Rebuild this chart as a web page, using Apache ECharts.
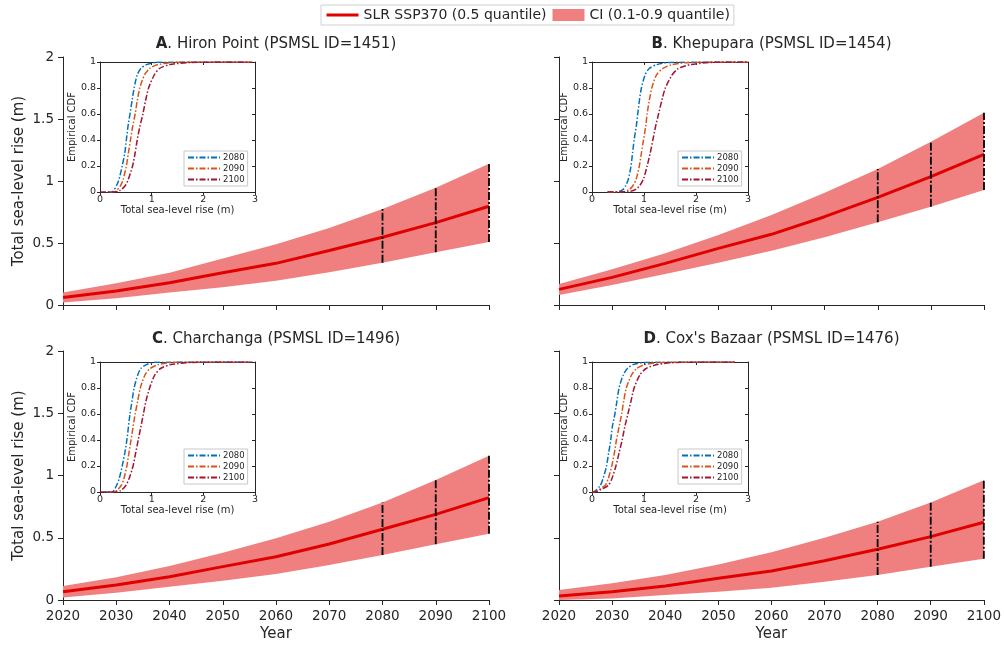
<!DOCTYPE html>
<html><head><meta charset="utf-8">
<script src="https://cdn.jsdelivr.net/npm/echarts@6/dist/echarts.min.js"></script>
<style>html,body{margin:0;padding:0;background:#fff}#c{width:1004px;height:648px}</style>
</head><body><div id="c"></div>
<script>
// ---------- data ----------
const years = [2020, 2030, 2040, 2050, 2060, 2070, 2080, 2090, 2100];
const markYears = [2080, 2090, 2100];

const medianA = [0.06, 0.113, 0.18, 0.26, 0.336, 0.44, 0.546, 0.664, 0.796];
const upperA  = [0.10, 0.175, 0.26, 0.376, 0.49, 0.62, 0.774, 0.946, 1.14];
const lowerA  = [0.02, 0.054, 0.10, 0.143, 0.196, 0.264, 0.341, 0.425, 0.508];

const medianB = [0.126, 0.223, 0.336, 0.457, 0.57, 0.712, 0.868, 1.035, 1.215];
const upperB  = [0.169, 0.288, 0.417, 0.565, 0.726, 0.906, 1.097, 1.317, 1.551];
const lowerB  = [0.081, 0.161, 0.25, 0.341, 0.438, 0.546, 0.667, 0.793, 0.927];

const medianC = [0.067, 0.12, 0.187, 0.268, 0.348, 0.45, 0.568, 0.688, 0.822];
const upperC  = [0.112, 0.182, 0.273, 0.38, 0.495, 0.629, 0.784, 0.964, 1.159];
const lowerC  = [0.021, 0.059, 0.107, 0.155, 0.209, 0.281, 0.361, 0.447, 0.533];

const medianD = [0.032, 0.067, 0.112, 0.174, 0.233, 0.316, 0.407, 0.509, 0.624];
const upperD  = [0.08, 0.134, 0.2, 0.286, 0.383, 0.5, 0.629, 0.784, 0.961];
const lowerD  = [0.0, 0.013, 0.04, 0.067, 0.099, 0.147, 0.2, 0.268, 0.332];

// empirical CDFs: [sea-level rise (m), cumulative probability]
const cdfA2080 = [[0.15,0],[0.25,0.005],[0.32,0.05],[0.37,0.1],[0.43,0.2],[0.48,0.3],[0.51,0.4],[0.54,0.5],[0.58,0.6],[0.62,0.7],[0.66,0.8],[0.72,0.9],[0.79,0.95],[0.9,0.98],[1.09,0.998],[2.9,1]];
const cdfA2090 = [[0.2,0],[0.3,0.005],[0.4,0.05],[0.45,0.1],[0.51,0.2],[0.55,0.3],[0.59,0.4],[0.63,0.5],[0.68,0.6],[0.72,0.7],[0.77,0.8],[0.86,0.9],[0.96,0.95],[1.12,0.98],[1.45,0.998],[2.9,1]];
const cdfA2100 = [[0,0],[0.25,0],[0.38,0.01],[0.49,0.05],[0.55,0.1],[0.63,0.2],[0.68,0.3],[0.72,0.4],[0.77,0.5],[0.83,0.6],[0.88,0.7],[0.94,0.8],[1.05,0.9],[1.15,0.95],[1.35,0.98],[1.77,0.997],[2.95,1]];

const cdfB2080 = [[0.3,0],[0.5,0.002],[0.6,0.02],[0.65,0.05],[0.7,0.1],[0.75,0.2],[0.78,0.3],[0.81,0.4],[0.85,0.5],[0.88,0.6],[0.91,0.7],[0.95,0.8],[1.02,0.9],[1.1,0.95],[1.25,0.98],[1.5,0.997],[3,1]];
const cdfB2090 = [[0.3,0],[0.6,0.002],[0.72,0.02],[0.79,0.05],[0.85,0.1],[0.91,0.2],[0.95,0.3],[0.99,0.4],[1.03,0.5],[1.06,0.6],[1.1,0.7],[1.15,0.8],[1.24,0.9],[1.36,0.95],[1.54,0.98],[1.89,0.997],[3,1]];
const cdfB2100 = [[0.3,0],[0.7,0.002],[0.84,0.02],[0.92,0.05],[0.99,0.1],[1.06,0.2],[1.12,0.3],[1.17,0.4],[1.22,0.5],[1.28,0.6],[1.34,0.7],[1.41,0.8],[1.54,0.9],[1.66,0.95],[1.89,0.98],[2.3,0.997],[3,1]];

const cdfC2080 = [[0.1,0],[0.25,0.005],[0.32,0.05],[0.37,0.1],[0.43,0.2],[0.48,0.3],[0.52,0.4],[0.55,0.5],[0.58,0.6],[0.62,0.7],[0.66,0.8],[0.73,0.9],[0.79,0.95],[0.9,0.98],[1.06,0.998],[2.9,1]];
const cdfC2090 = [[0.15,0],[0.3,0.005],[0.41,0.05],[0.46,0.1],[0.52,0.2],[0.56,0.3],[0.6,0.4],[0.64,0.5],[0.68,0.6],[0.73,0.7],[0.78,0.8],[0.87,0.9],[0.97,0.95],[1.13,0.98],[1.45,0.998],[2.9,1]];
const cdfC2100 = [[0,0],[0.28,0],[0.4,0.01],[0.5,0.05],[0.56,0.1],[0.64,0.2],[0.69,0.3],[0.74,0.4],[0.79,0.5],[0.84,0.6],[0.89,0.7],[0.96,0.8],[1.06,0.9],[1.17,0.95],[1.37,0.98],[1.8,0.997],[2.95,1]];

const cdfD2080 = [[0,0],[0.05,0.005],[0.16,0.05],[0.21,0.1],[0.28,0.2],[0.32,0.3],[0.36,0.4],[0.39,0.5],[0.44,0.6],[0.48,0.7],[0.52,0.8],[0.6,0.9],[0.68,0.95],[0.79,0.98],[1.02,0.997],[2.75,1]];
const cdfD2090 = [[0,0],[0.06,0.003],[0.25,0.05],[0.31,0.1],[0.38,0.2],[0.43,0.3],[0.47,0.4],[0.52,0.5],[0.57,0.6],[0.61,0.7],[0.66,0.8],[0.76,0.9],[0.86,0.95],[1.02,0.98],[1.34,0.997],[2.75,1]];
const cdfD2100 = [[0,0],[0.08,0.003],[0.31,0.05],[0.38,0.1],[0.46,0.2],[0.52,0.3],[0.58,0.4],[0.63,0.5],[0.69,0.6],[0.75,0.7],[0.81,0.8],[0.92,0.9],[1.04,0.95],[1.25,0.98],[1.63,0.997],[2.75,1]];

const panelLetters = ['A', 'B', 'C', 'D'];
const panelNames = ['Hiron Point (PSMSL ID=1451)', 'Khepupara (PSMSL ID=1454)', 'Charchanga (PSMSL ID=1496)', "Cox's Bazaar (PSMSL ID=1476)"];
const cdfNames = ['2080', '2090', '2100'];
const medianName = 'SLR SSP370 (0.5 quantile)';
const ciName = 'CI (0.1-0.9 quantile)';

// ---------- layout / style ----------
const FONT = 'DejaVu Sans';
const INK = '#262626';
const BAND = '#F08080';
const MEDIAN = '#E00000';
const CDF_COLORS = ['#0072BD', '#D95319', '#A2142F'];

const mainGrids = [
  {left: 63, top: 57, width: 426, height: 248},
  {left: 559, top: 57, width: 425, height: 248},
  {left: 63, top: 351, width: 426, height: 249},
  {left: 559, top: 351, width: 425, height: 249}
];
const insetGrids = [
  {left: 100, top: 62, width: 155, height: 130},
  {left: 592, top: 62, width: 156, height: 130},
  {left: 100, top: 362, width: 155, height: 130},
  {left: 592, top: 362, width: 156, height: 130}
];
const insetLegendPos = [[184, 151], [678, 151], [184, 449], [678, 449]];
const titleTops = [37, 37, 332, 332];

const medians = [medianA, medianB, medianC, medianD];
const uppers = [upperA, upperB, upperC, upperD];
const lowers = [lowerA, lowerB, lowerC, lowerD];
const cdfs = [[cdfA2080, cdfA2090, cdfA2100], [cdfB2080, cdfB2090, cdfB2100],
              [cdfC2080, cdfC2090, cdfC2100], [cdfD2080, cdfD2090, cdfD2100]];

const grid = [], xAxis = [], yAxis = [], series = [], title = [], legend = [];

mainGrids.forEach(g => grid.push(Object.assign({containLabel: false}, g)));
insetGrids.forEach(g => grid.push(Object.assign({containLabel: false, show: true, backgroundColor: '#fff', borderWidth: 0, z: 5}, g)));

const axisLine = {show: true, onZero: false, lineStyle: {color: INK, width: 1}};
const plain = v => String(v);

// main axes 0..3
for (let i = 0; i < 4; i++) {
  const bottomRow = i >= 2, leftCol = i % 2 === 0;
  xAxis.push({
    type: 'value', gridIndex: i, min: 2020, max: 2100, interval: 10,
    axisLine, axisTick: {show: true, length: 5, lineStyle: {color: INK}},
    axisLabel: {show: bottomRow, color: INK, fontFamily: FONT, fontSize: 13.5, margin: 9, formatter: plain},
    splitLine: {show: false},
    name: bottomRow ? 'Year' : '', nameLocation: 'middle', nameGap: 27,
    nameTextStyle: {color: INK, fontFamily: FONT, fontSize: 15}
  });
  yAxis.push({
    type: 'value', gridIndex: i, min: 0, max: 2, interval: 0.5,
    axisLine, axisTick: {show: true, length: 5, lineStyle: {color: INK}},
    axisLabel: {show: leftCol, color: INK, fontFamily: FONT, fontSize: 13.5, margin: 9, formatter: plain},
    splitLine: {show: false},
    name: leftCol ? 'Total sea-level rise (m)' : '', nameLocation: 'middle', nameGap: 36,
    nameTextStyle: {color: INK, fontFamily: FONT, fontSize: 15}
  });
}
// inset bottom/left axes 4..7
for (let i = 0; i < 4; i++) {
  xAxis.push({
    type: 'value', gridIndex: 4 + i, min: 0, max: 3, interval: 1, position: 'bottom', z: 6,
    axisLine, axisTick: {show: true, length: 3, lineStyle: {color: INK}},
    axisLabel: {color: INK, fontFamily: FONT, fontSize: 9.5, margin: 3, formatter: plain},
    splitLine: {show: false},
    name: 'Total sea-level rise (m)', nameLocation: 'middle', nameGap: 13,
    nameTextStyle: {color: INK, fontFamily: FONT, fontSize: 10}
  });
  yAxis.push({
    type: 'value', gridIndex: 4 + i, min: 0, max: 1, interval: 0.2, position: 'left', z: 6,
    axisLine, axisTick: {show: true, length: 3, lineStyle: {color: INK}},
    axisLabel: {color: INK, fontFamily: FONT, fontSize: 9.5, margin: 4, formatter: plain},
    splitLine: {show: false},
    name: 'Empirical CDF', nameLocation: 'middle', nameGap: 19,
    nameTextStyle: {color: INK, fontFamily: FONT, fontSize: 10}
  });
}
// inset top/right axes 8..11
for (let i = 0; i < 4; i++) {
  xAxis.push({
    type: 'value', gridIndex: 4 + i, min: 0, max: 3, interval: 1, position: 'top', z: 6,
    axisLine, axisTick: {show: true, inside: true, length: 3, lineStyle: {color: INK}},
    axisLabel: {show: false}, splitLine: {show: false}
  });
  yAxis.push({
    type: 'value', gridIndex: 4 + i, min: 0, max: 1, interval: 0.2, position: 'right', z: 6,
    axisLine, axisTick: {show: true, inside: true, length: 3, lineStyle: {color: INK}},
    axisLabel: {show: false}, splitLine: {show: false}
  });
}

for (let i = 0; i < 4; i++) {
  const up = uppers[i], lo = lowers[i];
  // CI band as a polygon through the axis scales
  series.push({
    type: 'custom', name: ciName, xAxisIndex: i, yAxisIndex: i, silent: true, z: 1,
    itemStyle: {color: BAND},
    encode: {x: 0, y: [1, 2]},
    data: years.map((y, k) => [y, lo[k], up[k]]),
    renderItem: (params, api) => {
      if (params.dataIndex !== 0) return null;
      const pts = [];
      for (let k = 0; k < years.length; k++) pts.push(api.coord([years[k], up[k]]));
      for (let k = years.length - 1; k >= 0; k--) pts.push(api.coord([years[k], lo[k]]));
      return {type: 'polygon', shape: {points: pts}, style: {fill: BAND, stroke: null}};
    }
  });
  series.push({
    type: 'line', name: medianName, xAxisIndex: i, yAxisIndex: i,
    data: years.map((y, k) => [y, medians[i][k]]), symbol: 'none', silent: true,
    lineStyle: {color: MEDIAN, width: 3}, itemStyle: {color: MEDIAN}, z: 3
  });
  markYears.forEach(my => {
    const k = years.indexOf(my);
    series.push({
      type: 'line', name: 'mark' + i + '_' + my, xAxisIndex: i, yAxisIndex: i,
      data: [[my, lo[k]], [my, up[k]]], symbol: 'none', silent: true,
      lineStyle: {color: '#000', width: 1.8, type: [8, 2, 2, 2]}, z: 4
    });
  });
  cdfs[i].forEach((d, j) => {
    series.push({
      type: 'line', name: cdfNames[j], xAxisIndex: 4 + i, yAxisIndex: 4 + i,
      data: d, symbol: 'none', silent: true, smooth: 0.25, z: 7,
      lineStyle: {color: CDF_COLORS[j], width: 1.5, type: [6, 2, 1.5, 2]},
      itemStyle: {color: CDF_COLORS[j]}
    });
  });
  const g = mainGrids[i];
  title.push({
    text: '{b|' + panelLetters[i] + '}. ' + panelNames[i],
    left: g.left + g.width / 2, top: titleTops[i], textAlign: 'center', padding: 0,
    textStyle: {color: INK, fontFamily: FONT, fontSize: 15, fontWeight: 'normal',
      rich: {b: {fontWeight: 'bold', fontFamily: FONT, fontSize: 15, color: INK}}}
  });
  legend.push({
    data: cdfNames, orient: 'vertical', left: insetLegendPos[i][0], top: insetLegendPos[i][1],
    padding: [2, 3], itemWidth: 32, itemHeight: 8, itemGap: 2, z: 8,
    itemStyle: {opacity: 0},
    backgroundColor: '#fff', borderColor: '#c8c8c8', borderWidth: 1, borderRadius: 0,
    selectedMode: false, textStyle: {color: INK, fontFamily: FONT, fontSize: 8.5, padding: [0, 0, 0, -2]}
  });
}

legend.unshift({
  data: [
    {name: medianName, lineStyle: {width: 3}, itemStyle: {opacity: 0}},
    {name: ciName, icon: 'rect', itemStyle: {color: BAND, opacity: 1}}
  ],
  left: 321, top: 5, padding: [3, 4], itemWidth: 32, itemHeight: 12, itemGap: 6,
  backgroundColor: '#fff', borderColor: '#d0d0d0', borderWidth: 1, borderRadius: 0,
  selectedMode: false, textStyle: {color: INK, fontFamily: FONT, fontSize: 14}
});

const chart = echarts.init(document.getElementById('c'), null, {renderer: 'canvas'});
chart.setOption({
  animation: false, backgroundColor: '#fff',
  textStyle: {fontFamily: FONT},
  title, legend, grid, xAxis, yAxis, series
});
</script>
</body></html>
